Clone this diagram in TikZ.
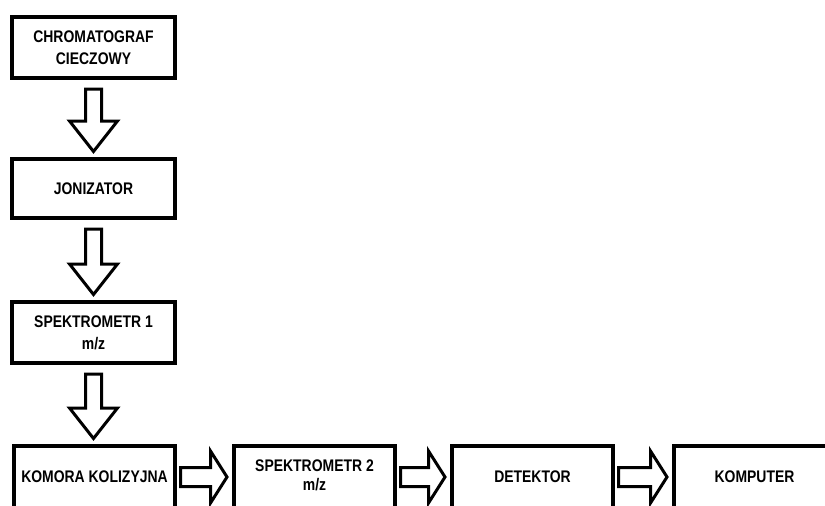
\documentclass[tikz,border=0pt]{standalone}
\usepackage{fontspec}
\setmainfont{Liberation Sans}[FakeStretch=0.83]
\usetikzlibrary{calc}
\tikzset{
  box/.style={draw=black, line width=4pt, fill=white, inner sep=0pt, outer sep=0pt,
    minimum width=#1, align=center, font=\fontsize{16.8}{22}\selectfont\bfseries},
  box/.default=161pt,
  blockarrow/.style={draw=black, line width=3pt, fill=white, line join=miter, miter limit=10}
}
\newcommand\vblockarrow[2]{%
  \draw[blockarrow] let \p1=(#1.south), \p2=(#2.north) in
    (\x1-8pt,\y1-11pt) -- (\x1-8pt,\y2+38pt) -- (\x1-24pt,\y2+38pt) -- (\x1,\y2+7.5pt)
    -- (\x1+24pt,\y2+38pt) -- (\x1+8pt,\y2+38pt) -- (\x1+8pt,\y1-11pt) -- cycle;}
\newcommand\hblockarrow[2]{%
  \draw[blockarrow] let \p1=(#1.east), \p2=(#2.west) in
    (\x1+5.5pt,\y1+9.5pt) -- (\x2-23.5pt,\y1+9.5pt) -- (\x2-23.5pt,\y1+26pt) -- (\x2-7pt,\y1)
    -- (\x2-23.5pt,\y1-26pt) -- (\x2-23.5pt,\y1-9.5pt) -- (\x1+5.5pt,\y1-9.5pt) -- cycle;}
\begin{document}
\begin{tikzpicture}[x=1pt,y=-1pt]
  \useasboundingbox (0,0) rectangle (825,506);
  \fill[white] (0,0) rectangle (825,506);
  \clip (0,0) rectangle (825,506);
  \node[box=163pt, minimum height=61pt] (chrom) at (93.5,47.5) {CHROMATOGRAF\\CIECZOWY};
  \node[box=163pt, minimum height=59pt] (jon) at (93.5,188.5) {JONIZATOR};
  \node[box=163pt, minimum height=61pt] (spek1) at (93.5,332.5) {SPEKTROMETR 1\\m/z};
  \node[box, minimum height=62pt] (kom) at (94.5,477) {KOMORA KOLIZYJNA};
  \node[box, minimum height=62pt] (spek2) at (314.5,477) {\raisebox{3pt}{\begin{tabular}{@{}c@{}}SPEKTROMETR 2\\[-3pt]m/z\end{tabular}}};
  \node[box, minimum height=62pt] (det) at (532.5,477) {DETEKTOR};
  \node[box, minimum height=62pt] (komp) at (754.5,477) {KOMPUTER};
  \vblockarrow{chrom}{jon}
  \vblockarrow{jon}{spek1}
  \vblockarrow{spek1}{kom}
  \hblockarrow{kom}{spek2}
  \hblockarrow{spek2}{det}
  \hblockarrow{det}{komp}
\end{tikzpicture}
\end{document}
